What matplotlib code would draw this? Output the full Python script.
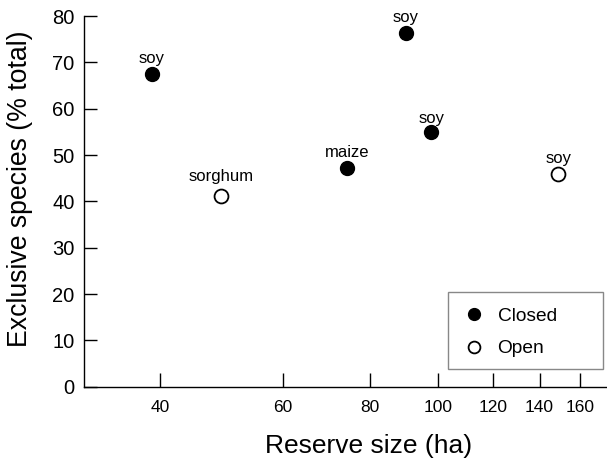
import matplotlib
matplotlib.use("Agg")
import matplotlib.pyplot as plt
from matplotlib.ticker import FixedLocator, NullLocator, FixedFormatter
from matplotlib.patches import Rectangle

plt.rcParams['font.family'] = ['Liberation Sans', 'DejaVu Sans']

# Data
closed_x = [38.9, 74.1, 90.0, 97.9]
closed_y = [67.4, 47.1, 76.3, 54.9]
closed_labels = ["soy", "maize", "soy", "soy"]
open_x = [48.9, 148.9]
open_y = [41.2, 45.9]
open_labels = ["sorghum", "soy"]
xticks = [40, 60, 80, 100, 120, 140, 160]
yticks = [0, 10, 20, 30, 40, 50, 60, 70, 80]

W, H = 607, 461
fig = plt.figure(figsize=(W / 100, H / 100), dpi=100)
L, R, B, T = 84.3, 607, 386.7, 16
ax = fig.add_axes([L / W, (H - B) / H, (R - L) / W, (B - T) / H])

ax.plot(closed_x, closed_y, 'o', color='black', markersize=10, linestyle='none', label='Closed')
ax.plot(open_x, open_y, 'o', markerfacecolor='white', markeredgecolor='black',
        markeredgewidth=1.3, markersize=10, linestyle='none', label='Open')

closed_off = [8, 8, 8, 7]
open_off = [11, 8]
for (x, y, t), o in zip(zip(closed_x, closed_y, closed_labels), closed_off):
    ax.annotate(t, (x, y), xytext=(0, o), textcoords='offset points',
                ha='center', va='baseline', fontsize=12)
for (x, y, t), o in zip(zip(open_x, open_y, open_labels), open_off):
    ax.annotate(t, (x, y), xytext=(0, o), textcoords='offset points',
                ha='center', va='baseline', fontsize=12)

ax.set_xscale('log')
ax.set_xlim(31.15, 174.9)
ax.set_ylim(0, 80)
ax.xaxis.set_major_locator(FixedLocator(xticks))
ax.xaxis.set_major_formatter(FixedFormatter([str(v) for v in xticks]))
ax.xaxis.set_minor_locator(NullLocator())
ax.set_yticks(yticks)

for s in ['top', 'right']:
    ax.spines[s].set_visible(False)
for s in ['left', 'bottom']:
    ax.spines[s].set_linewidth(1.0)

ax.tick_params(axis='x', direction='in', length=10, width=1, pad=9.6, labelsize=12.5)
ax.tick_params(axis='y', direction='in', length=9, width=1, pad=7, labelsize=14.5)

ax.set_xlabel('Reserve size (ha)', fontsize=19, va='baseline')
ax.xaxis.set_label_coords((368.5 - L) / (R - L), -(453 - B) / (B - T))
ax.set_ylabel('Exclusive species (% total)', fontsize=19.2)
ax.yaxis.set_label_coords(-(L - 33) / (R - L), (B - 189) / (B - T))

# legend box
bx0, bx1, by0, by1 = 447.7, 602.7, 291.7, 369
ax.add_patch(Rectangle(((bx0 - L) / (R - L), (B - by1) / (B - T)),
                       (bx1 - bx0) / (R - L), (by1 - by0) / (B - T),
                       transform=ax.transAxes, facecolor='white',
                       edgecolor='#888888', linewidth=1.0, zorder=5))
leg = ax.legend(loc='upper left',
                bbox_to_anchor=((bx0 - L) / (R - L), (B - by0 - 5) / (B - T)),
                fontsize=13.8, frameon=False, borderpad=0.55, handletextpad=0.45,
                labelspacing=0.8, borderaxespad=0, markerscale=0.85, handlelength=1.6)
leg.set_zorder(6)

fig.savefig('out.png', dpi=100)
